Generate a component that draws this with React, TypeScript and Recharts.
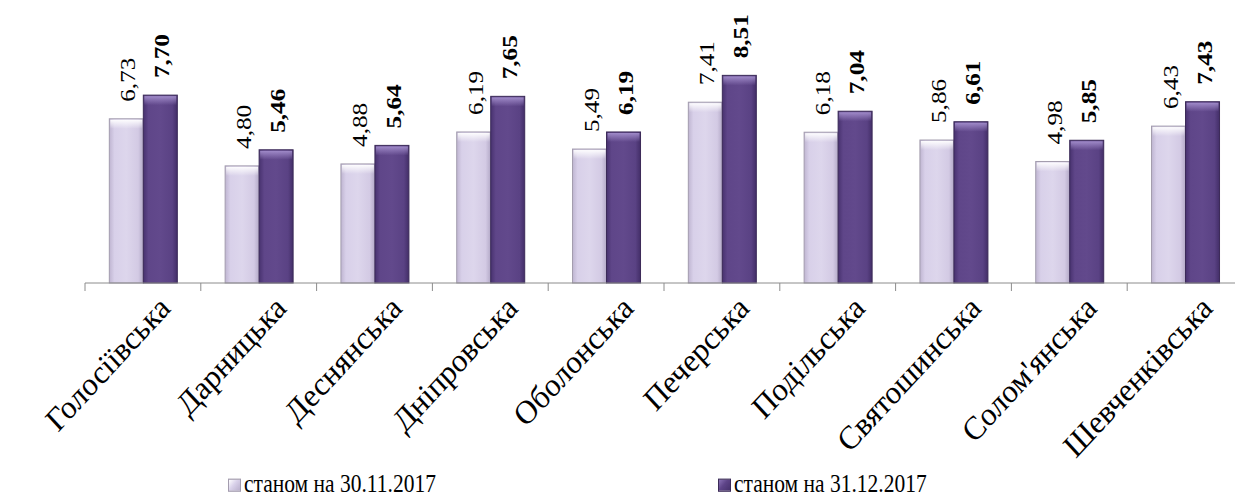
import { BarChart, Bar, XAxis, YAxis, LabelList } from "recharts";

const districts = [
  "Голосіївська",
  "Дарницька",
  "Деснянська",
  "Дніпровська",
  "Оболонська",
  "Печерська",
  "Подільська",
  "Святошинська",
  "Солом'янська",
  "Шевченківська",
];
const novValues = [6.73, 4.8, 4.88, 6.19, 5.49, 7.41, 6.18, 5.86, 4.98, 6.43];
const decValues = [7.7, 5.46, 5.64, 7.65, 6.19, 8.51, 7.04, 6.61, 5.85, 7.43];
const seriesNames = ["станом на 30.11.2017", "станом на 31.12.2017"];

const FONT = "Times New Roman";
const TOP = 39;
const PLOT_H = 244;
const AXIS_Y = TOP + PLOT_H;
const LEFT = 85;
const PLOT_W = 1158;
const BAND = PLOT_W / districts.length;
const STRETCH = 1.2;
const TICK_STRETCH = 1.08;

const data = districts.map((name, i) => ({ name, nov: novValues[i], dec: decValues[i] }));

const fmt = (v: number) => v.toFixed(2).replace(".", ",");

function LightBar(props: any) {
  const { x, y, width, height } = props;
  if (!height) return null;
  return (
    <g>
      <rect x={x} y={y} width={width} height={height} fill="url(#lightBody)" stroke="#a39cae" strokeWidth={1} />
      <rect x={x + 1} y={y + 1} width={width - 2} height={Math.min(9, height)} fill="url(#lightTop)" />
    </g>
  );
}

function DarkBar(props: any) {
  const { x, y, width, height } = props;
  if (!height) return null;
  return (
    <g>
      <rect x={x} y={y} width={width} height={height} fill="url(#darkBody)" stroke="#3b2a58" strokeWidth={1} />
      <rect x={x + 1} y={y + 1} width={width - 2} height={Math.min(9, height)} fill="url(#darkTop)" />
    </g>
  );
}

function makeLabel(bold: boolean) {
  return (props: any) => {
    const { x, y, width, value } = props;
    const cx = x + width / 2 + 9;
    const cy = y - 17;
    return (
      <text
        transform={`translate(${cx},${cy}) scale(1,${STRETCH}) rotate(-90)`}
        textAnchor="start"
        style={{ fontFamily: FONT }}
        fontSize={21}
        fontWeight={bold ? "bold" : "normal"}
        fill="#000"
      >
        {fmt(value)}
      </text>
    );
  };
}

function CategoryTick(props: any) {
  const { x, payload } = props;
  const bx = x - BAND / 2;
  return (
    <g>
      <line x1={bx} y1={AXIS_Y} x2={bx} y2={AXIS_Y + 8} stroke="#8c8c8c" />
      <text
        transform={`translate(${x + 29},${AXIS_Y + 27}) scale(1,${TICK_STRETCH}) rotate(-45)`}
        textAnchor="end"
        style={{ fontFamily: FONT }}
        fontSize={30.5}
        fill="#000"
      >
        {payload.value}
      </text>
    </g>
  );
}

function LegendMark({ dark }: { dark: boolean }) {
  return (
    <span
      style={{
        display: "inline-block",
        width: 13,
        height: 11,
        marginRight: 3,
        border: dark ? "1px solid #3b2a58" : "1px solid #a39cae",
        background: dark
          ? "linear-gradient(135deg, #8a72b6 0%, #5e4488 45%, #46316c 100%)"
          : "linear-gradient(135deg, #ffffff 0%, #d9d1ea 45%, #b9afcc 100%)",
        boxSizing: "border-box",
      }}
    />
  );
}

const legendStyle = {
  position: "absolute" as const,
  top: 469,
  fontFamily: FONT,
  fontSize: 21.5,
  lineHeight: "24px",
  color: "#000",
  whiteSpace: "nowrap" as const,
  transform: `scaleY(${STRETCH})`,
  transformOrigin: "top left",
};

export default function App() {
  return (
    <div
      style={{
        position: "absolute",
        left: 0,
        top: 0,
        width: 1235,
        height: 498,
        overflow: "hidden",
        background: "#fff",
      }}
    >
      <BarChart
        width={LEFT + PLOT_W + 19}
        height={498}
        data={data}
        margin={{ top: TOP, right: 19, left: LEFT, bottom: 0 }}
        barCategoryGap="21%"
        barGap={0}
      >
        <defs>
          <linearGradient id="lightBody" x1="0" y1="0" x2="1" y2="0">
            <stop offset="0%" stopColor="#bfb5d1" />
            <stop offset="15%" stopColor="#d8d0e9" />
            <stop offset="50%" stopColor="#ddd6ec" />
            <stop offset="85%" stopColor="#d3cae4" />
            <stop offset="100%" stopColor="#b3a9c7" />
          </linearGradient>
          <linearGradient id="lightTop" x1="0" y1="0" x2="0" y2="1">
            <stop offset="0%" stopColor="#ffffff" stopOpacity={0.95} />
            <stop offset="100%" stopColor="#ffffff" stopOpacity={0} />
          </linearGradient>
          <linearGradient id="darkBody" x1="0" y1="0" x2="1" y2="0">
            <stop offset="0%" stopColor="#48326f" />
            <stop offset="15%" stopColor="#5f4689" />
            <stop offset="50%" stopColor="#62498c" />
            <stop offset="85%" stopColor="#5a4284" />
            <stop offset="100%" stopColor="#432e68" />
          </linearGradient>
          <linearGradient id="darkTop" x1="0" y1="0" x2="0" y2="1">
            <stop offset="0%" stopColor="#a792d0" stopOpacity={0.9} />
            <stop offset="100%" stopColor="#a792d0" stopOpacity={0} />
          </linearGradient>
        </defs>
        <XAxis
          dataKey="name"
          height={498 - AXIS_Y}
          interval={0}
          axisLine={{ stroke: "#8c8c8c", strokeWidth: 1 }}
          tickLine={false}
          tick={<CategoryTick />}
        />
        <YAxis hide domain={[0, 10]} />
        <Bar dataKey="nov" name={seriesNames[0]} shape={<LightBar />} isAnimationActive={false}>
          <LabelList dataKey="nov" content={makeLabel(false)} />
        </Bar>
        <Bar dataKey="dec" name={seriesNames[1]} shape={<DarkBar />} isAnimationActive={false}>
          <LabelList dataKey="dec" content={makeLabel(true)} />
        </Bar>
      </BarChart>
      <div style={{ ...legendStyle, left: 228 }}>
        <LegendMark dark={false} />
        {seriesNames[0]}
      </div>
      <div style={{ ...legendStyle, left: 718 }}>
        <LegendMark dark={true} />
        {seriesNames[1]}
      </div>
    </div>
  );
}
